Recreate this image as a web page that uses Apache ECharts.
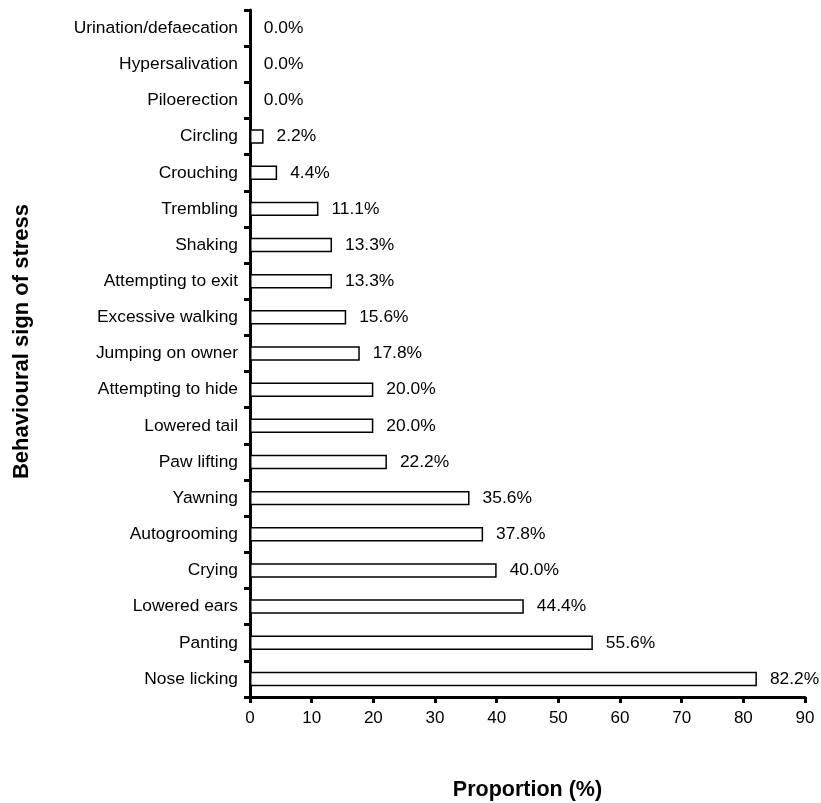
<!DOCTYPE html>
<html><head><meta charset="utf-8">
<script src="https://cdn.jsdelivr.net/npm/echarts@6/dist/echarts.min.js"></script>
<style>html,body{margin:0;padding:0;background:#fff}#c{width:821px;height:803px}</style>
</head><body><div id="c"></div>
<script>
const categories = ["Nose licking","Panting","Lowered ears","Crying","Autogrooming","Yawning","Paw lifting","Lowered tail","Attempting to hide","Jumping on owner","Excessive walking","Attempting to exit","Shaking","Trembling","Crouching","Circling","Piloerection","Hypersalivation","Urination/defaecation"];
const values = [82.2,55.6,44.4,40.0,37.8,35.6,22.2,20.0,20.0,17.8,15.6,13.3,13.3,11.1,4.4,2.2,0.0,0.0,0.0];
const xTicks = [0,10,20,30,40,50,60,70,80,90];
const font = "Liberation Sans, Arial, sans-serif";
const chart = echarts.init(document.getElementById('c'), null, {renderer:'canvas', width:821, height:803});
chart.setOption({
  animation:false,
  grid:{left:250,top:10,width:555,height:687,containLabel:false,outerBoundsMode:'none'},
  xAxis:{type:'value',min:xTicks[0],max:xTicks[xTicks.length-1],interval:10,
    name:'Proportion (%)',nameLocation:'middle',nameGap:82,
    nameTextStyle:{fontFamily:font,fontSize:21.5,fontWeight:'bold',color:'#000'},
    axisLine:{show:true,lineStyle:{color:'#000',width:3}},
    axisTick:{show:true,length:6,lineStyle:{color:'#000',width:3}},
    axisLabel:{fontFamily:font,fontSize:17,color:'#000',margin:13},
    splitLine:{show:false}},
  yAxis:{type:'category',data:categories,
    name:'Behavioural sign of stress',nameLocation:'middle',nameGap:217,
    nameTextStyle:{fontFamily:font,fontSize:22,fontWeight:'bold',color:'#000',padding:[0,0,0,24]},
    axisLine:{show:true,lineStyle:{color:'#000',width:3}},
    axisTick:{show:true,length:6,alignWithLabel:false,lineStyle:{color:'#000',width:3}},
    axisLabel:{fontFamily:font,fontSize:17.4,color:'#000',margin:12},
    splitLine:{show:false}},
  series:[{type:'bar',data:values,barWidth:'40%',
    itemStyle:{color:'#fff',borderColor:'#000',borderWidth:1.5},
    label:{show:true,position:'right',distance:13,fontFamily:font,fontSize:17.4,color:'#000',
      formatter:p=>p.value.toFixed(1)+'%'}}]
});
</script></body></html>
